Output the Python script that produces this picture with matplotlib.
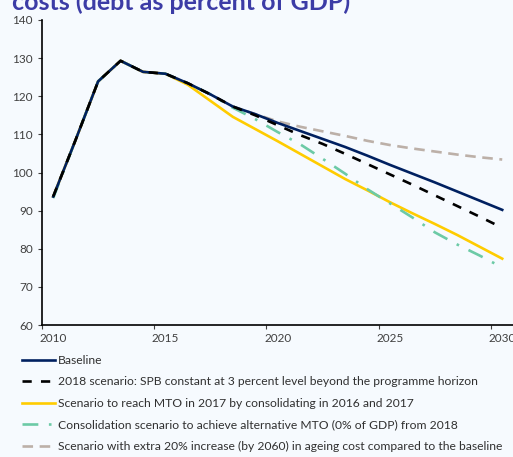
import matplotlib
matplotlib.use("Agg")
import matplotlib.pyplot as plt

plt.rcParams['font.family'] = ['Lato', 'DejaVu Sans']

years = list(range(2010, 2031))
tick_years = [2010, 2015, 2020, 2025, 2030]

common = [93.7, 108.6, 123.9, 129.3, 126.4, 125.9, 123.4]
baseline = common + [120.5, 117.3, 115.3, 113.0, 110.9, 108.8, 106.7, 104.4, 102.0, 99.7, 97.4, 95.0, 92.6, 90.2]
spb_2018 = common + [120.5, 117.3, 115.0, 112.4, 109.8, 107.5, 104.9, 102.2, 99.5, 96.8, 94.0, 91.2, 88.4, 85.5]
mto_2017 = common[:-1] + [123.0, 118.8, 114.6, 111.4, 108.2, 104.9, 101.6, 98.3, 95.3, 92.2, 89.3, 86.5, 83.6, 80.5, 77.4]
alt_mto = [93.3] + common[1:] + [120.5, 117.0, 114.0, 110.6, 107.4, 103.6, 99.7, 95.6, 91.9, 88.2, 84.3, 81.1, 78.2, 75.1]
ageing = common + [120.5, 117.3, 115.3, 113.4, 112.0, 110.8, 109.6, 108.3, 107.2, 106.3, 105.5, 104.7, 104.0, 103.4]

labels = [
    "Baseline",
    "2018 scenario: SPB constant at 3 percent level beyond the programme horizon",
    "Scenario to reach MTO in 2017 by consolidating in 2016 and 2017",
    "Consolidation scenario to achieve alternative MTO (0% of GDP) from 2018",
    "Scenario with extra 20% increase (by 2060) in ageing cost compared to the baseline",
]

bg = '#f6fafe'
fig = plt.figure(figsize=(5.13, 4.57), dpi=100, facecolor=bg)
ax = fig.add_axes([42/513, 1-325/457, 1-42/513, 305/457], facecolor=bg)

lw = 1.9
ax.plot(years, ageing, color='#bcb0a8', lw=lw, dashes=(4, 2.5), label=labels[4], zorder=2)
ax.plot(years, alt_mto, color='#6ccaa6', lw=lw, dashes=(6, 4, 1, 4), label=labels[3], zorder=3)
ax.plot(years, mto_2017, color='#ffcc00', lw=lw, label=labels[2], zorder=2)
ax.plot(years, spb_2018, color='black', lw=lw, dashes=(3.5, 3.5), label=labels[1], zorder=4)
ax.plot(years, baseline, color='#002060', lw=lw, label=labels[0], zorder=3)

ax.set_xlim(2009.5, 2030.48)
ax.set_ylim(60, 140)
ax.set_yticks(range(60, 141, 10))
# labels sit on the category centre, tick marks on the category boundary
ax.set_xticks(tick_years)
ax.set_xticks([y - 0.5 for y in tick_years], minor=True)
ax.tick_params(axis='x', which='major', length=0, pad=6)
ax.tick_params(axis='x', which='minor', length=3, width=0.8, colors='#404040')
ax.tick_params(labelsize=8.5, labelcolor='#404040')
ax.tick_params(axis='y', length=3, width=0.8, colors='#404040')
for s in ['top', 'right']:
    ax.spines[s].set_visible(False)
for s in ['left', 'bottom']:
    ax.spines[s].set_linewidth(1.2)
    ax.spines[s].set_color('black')

handles, labs = ax.get_legend_handles_labels()
order = [4, 3, 2, 1, 0]
fig.legend([handles[i] for i in order], [labs[i] for i in order],
           loc='upper left', bbox_to_anchor=(22/513, 1-355/457), frameon=False,
           fontsize=8.75, handlelength=2.7, handletextpad=0.25, labelspacing=0.86,
           borderaxespad=0, borderpad=0, labelcolor='#303030')

fig.text(12/513, 1-10/457, "costs (debt as percent of GDP)", fontsize=18,
         fontweight='bold', color='#3c3ca6', va='baseline', ha='left')

fig.savefig('out.png', dpi=100, facecolor=bg)
